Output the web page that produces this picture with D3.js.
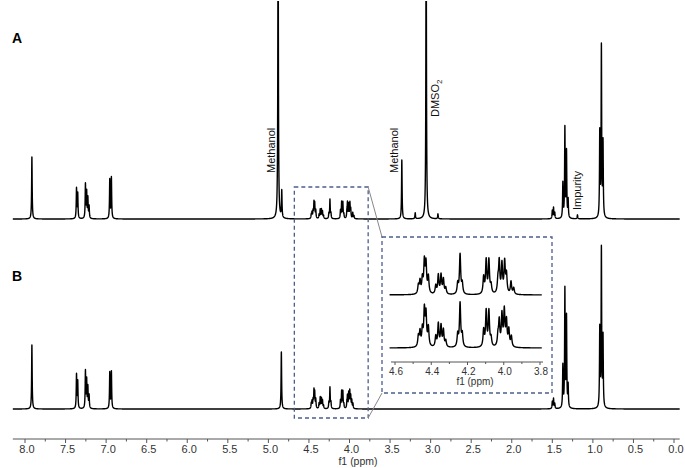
<!doctype html>
<html>
<head>
<meta charset="utf-8">
<title>1H NMR spectra A and B</title>
<script src="https://d3js.org/d3.v7.min.js"></script>
<style>
    body { margin: 0; background: #fff; }
    svg { display: block; font-family: "Liberation Sans", Arial, Helvetica, sans-serif; }
    .spec { fill: none; stroke: #000; stroke-width: 1.4px; stroke-linejoin: round; }
    .axis line, .axis path { stroke: #555; }
    .axis text { fill: #333; }
    .zoombox { fill: none; stroke: #4b5d8c; stroke-width: 1.3px; stroke-dasharray: 4,3; }
    .connector { stroke: #888; stroke-width: 1px; }
</style>
</head>
<body>
<svg id="chart" width="685" height="468"></svg>
<script>
// peak lists: [shift in ppm, line height]
var peaksA = [
    [7.915, 62],
    [7.365, 30], [7.35, 25],
    [7.255, 34], [7.24, 26], [7.225, 20], [7.21, 12],
    [6.955, 39], [6.935, 41],
    [4.88, 320],
    [4.835, 27],
    [4.471, 4], [4.462, 6], [4.449, 7], [4.438, 15], [4.429, 14], [4.416, 8],
    [4.375, 4], [4.361, 9], [4.346, 9], [4.333, 7], [4.32, 3],
    [4.254, 5], [4.241, 19], [4.229, 5],
    [4.111, 8], [4.097, 16], [4.082, 16], [4.07, 4],
    [4.032, 6], [4.025, 15], [4.01, 14], [3.995, 15], [3.985, 9], [3.96, 6], [3.945, 3],
    [3.355, 59],
    [3.19, 6],
    [3.055, 320],
    [2.91, 5],
    [1.5, 8], [1.485, 11], [1.47, 6],
    [1.37, 35], [1.345, 90], [1.325, 66], [1.305, 18],
    [1.19, 4],
    [0.915, 84], [0.895, 170], [0.875, 74]
];
var peaksB = [
    [7.915, 64],
    [7.365, 34], [7.35, 27],
    [7.255, 37], [7.24, 28], [7.225, 21], [7.21, 13],
    [6.955, 36], [6.935, 37],
    [4.84, 57],
    [4.471, 5], [4.462, 7], [4.449, 8], [4.438, 17], [4.429, 15], [4.416, 9],
    [4.375, 5], [4.361, 11], [4.346, 10], [4.333, 8], [4.32, 3],
    [4.254, 6], [4.241, 21], [4.229, 6],
    [4.111, 8], [4.097, 17], [4.082, 17], [4.07, 4],
    [4.032, 5], [4.025, 12], [4.01, 15], [3.997, 17], [3.985, 12], [3.972, 8], [3.958, 5],
    [1.5, 7], [1.485, 10], [1.47, 5],
    [1.37, 42], [1.345, 118], [1.325, 90], [1.305, 22],
    [0.915, 78], [0.895, 158], [0.875, 70]
];
var mainTicks = [8.0, 7.5, 7.0, 6.5, 6.0, 5.5, 5.0, 4.5, 4.0, 3.5, 3.0, 2.5, 2.0, 1.5, 1.0, 0.5, 0.0];
var mainMinorTicks = [7.75, 7.25, 6.75, 6.25, 5.75, 5.25, 4.75, 4.25, 3.75, 3.25, 2.75, 2.25, 1.75, 1.25, 0.75, 0.25];
var insetTicks = [4.6, 4.4, 4.2, 4.0, 3.8];
var insetMinorTicks = [4.5, 4.3, 4.1, 3.9];
var mainRange = [8.15, -0.07];
var insetRange = [4.63, 3.79];
var zoomWindow = [4.68, 3.77];

var svg = d3.select("#chart");
var W = 0.004; // half width of each line, ppm

// sum of lorentzian lines for every sample
function trace(peaks, range, step) {
    var pts = [];
    for (var p = range[0]; p >= range[1]; p -= step) {
        var s = 0;
        for (var i = 0; i < peaks.length; i++) {
            var d = (p - peaks[i][0]) / W;
            s += peaks[i][1] / (1 + d * d);
        }
        pts.push([p, s]);
    }
    return pts;
}

var x = d3.scaleLinear().domain([8, 0]).range([25, 674]);
var yA = d3.scaleLinear().domain([0, 219]).range([219, 0]);
var yB = d3.scaleLinear().domain([0, 219]).range([409, 190]);

svg.append("clipPath").attr("id", "clip")
    .append("rect").attr("x", 0).attr("y", 1).attr("width", 685).attr("height", 467);

var traceA = trace(peaksA, mainRange, 0.0005);
var traceB = trace(peaksB, mainRange, 0.0005);

svg.append("path").attr("class", "spec").attr("clip-path", "url(#clip)")
    .attr("d", d3.line().x(function (d) { return x(d[0]); }).y(function (d) { return yA(d[1]); })(traceA));
svg.append("path").attr("class", "spec").attr("clip-path", "url(#clip)")
    .attr("d", d3.line().x(function (d) { return x(d[0]); }).y(function (d) { return yB(d[1]); })(traceB));

// main axis
var axisG = svg.append("g").attr("class", "axis").attr("transform", "translate(0,439)");
axisG.append("line").attr("x1", x(mainRange[0])).attr("x2", x(mainRange[1])).attr("y1", 0).attr("y2", 0);
axisG.selectAll(".minor").data(mainMinorTicks).enter().append("line")
    .attr("x1", function (d) { return x(d); }).attr("x2", function (d) { return x(d); })
    .attr("y1", 0).attr("y2", 2.5);
axisG.selectAll(".major").data(mainTicks).enter().append("line")
    .attr("x1", function (d) { return x(d); }).attr("x2", function (d) { return x(d); })
    .attr("y1", 0).attr("y2", 4);
axisG.selectAll("text.tl").data(mainTicks).enter().append("text")
    .attr("class", "tl")
    .attr("x", function (d) { return x(d) + 2; }).attr("y", 14)
    .attr("text-anchor", "middle").style("font-size", "11px")
    .text(function (d) { return d.toFixed(1); });
axisG.append("text").attr("x", 358).attr("y", 26).attr("text-anchor", "middle")
    .style("font-size", "10.5px").text("f1 (ppm)");

// panel letters
svg.append("text").attr("x", 12).attr("y", 43).style("font-size", "14px").style("font-weight", "bold").text("A");
svg.append("text").attr("x", 12).attr("y", 281).style("font-size", "14px").style("font-weight", "bold").text("B");

// peak annotations
function vlabel(px, py, txt) {
    return svg.append("text").attr("transform", "translate(" + px + "," + py + ") rotate(-90)")
        .style("font-size", "11px").attr("fill", "#111").text(txt);
}
vlabel(x(4.88) - 3, 173, "Methanol");
vlabel(x(3.355) - 4, 173, "Methanol");
var dm = vlabel(x(3.055) + 13, 117, "DMSO");
dm.append("tspan").attr("dy", 3).style("font-size", "8px").text("2");
vlabel(x(1.19) + 4, 210, "Impurity");

// zoom window on the main spectra
var bx0 = x(zoomWindow[0]), bx1 = x(zoomWindow[1]);
svg.append("rect").attr("class", "zoombox")
    .attr("x", bx0).attr("y", 187).attr("width", bx1 - bx0).attr("height", 231);

// inset
var inset = { x0: 382, y0: 237, x1: 552, y1: 393 };
svg.append("line").attr("class", "connector").attr("x1", bx1).attr("y1", 187).attr("x2", inset.x0).attr("y2", inset.y0);
svg.append("line").attr("class", "connector").attr("x1", bx1).attr("y1", 418).attr("x2", inset.x0).attr("y2", inset.y1);
svg.append("rect").attr("x", inset.x0).attr("y", inset.y0)
    .attr("width", inset.x1 - inset.x0).attr("height", inset.y1 - inset.y0).attr("fill", "#fff");
svg.append("rect").attr("class", "zoombox").attr("x", inset.x0).attr("y", inset.y0)
    .attr("width", inset.x1 - inset.x0).attr("height", inset.y1 - inset.y0);

var xi = d3.scaleLinear().domain([4.6, 3.8]).range([395, 540]);
var yiA = d3.scaleLinear().domain([0, 24]).range([295, 245]);
var yiB = d3.scaleLinear().domain([0, 24]).range([348, 298]);

var insA = trace(peaksA, insetRange, 0.0002);
var insB = trace(peaksB, insetRange, 0.0002);
svg.append("path").attr("class", "spec")
    .attr("d", d3.line().x(function (d) { return xi(d[0]); }).y(function (d) { return yiA(d[1]); })(insA));
svg.append("path").attr("class", "spec")
    .attr("d", d3.line().x(function (d) { return xi(d[0]); }).y(function (d) { return yiB(d[1]); })(insB));

var iax = svg.append("g").attr("class", "axis").attr("transform", "translate(0,362)");
iax.append("line").attr("x1", 391).attr("x2", 543).attr("y1", 0).attr("y2", 0);
iax.selectAll(".minor").data(insetMinorTicks).enter().append("line")
    .attr("x1", function (d) { return xi(d); }).attr("x2", function (d) { return xi(d); })
    .attr("y1", 0).attr("y2", 2);
iax.selectAll(".major").data(insetTicks).enter().append("line")
    .attr("x1", function (d) { return xi(d); }).attr("x2", function (d) { return xi(d); })
    .attr("y1", 0).attr("y2", 3);
iax.selectAll("text.tl").data(insetTicks).enter().append("text")
    .attr("class", "tl")
    .attr("x", function (d) { return xi(d) + 1; }).attr("y", 13)
    .attr("text-anchor", "middle").style("font-size", "10px")
    .text(function (d) { return d.toFixed(1); });
iax.append("text").attr("x", 475).attr("y", 23).attr("text-anchor", "middle")
    .style("font-size", "10px").text("f1 (ppm)");
</script>
</body>
</html>
